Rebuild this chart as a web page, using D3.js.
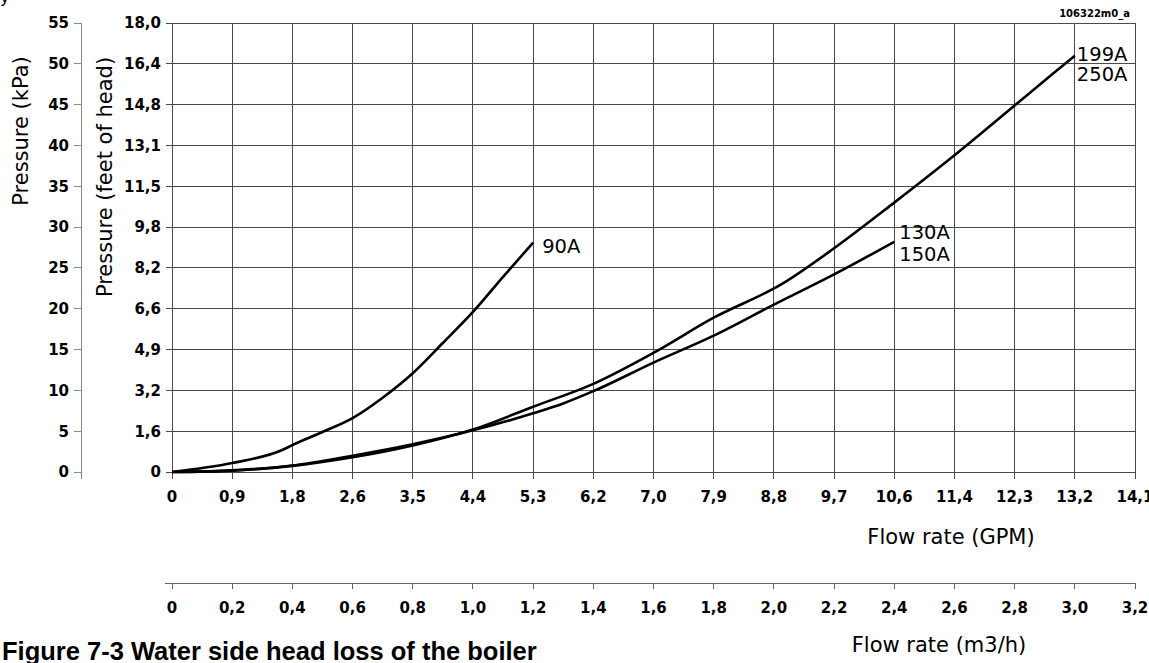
<!DOCTYPE html>
<html>
<head>
<meta charset="utf-8">
<style>
    body {
        margin: 0;
        background: #fff;
    }

    svg {
        display: block;
    }

    .tick-lbl {
        font-family: 'DejaVu Sans', sans-serif;
        font-weight: bold;
        font-size: 15px;
        fill: #000;
    }

    .axis-title {
        font-family: 'DejaVu Sans', sans-serif;
        font-size: 21px;
        fill: #000;
    }

    .curve-lbl {
        font-family: 'DejaVu Sans', sans-serif;
        font-size: 19.5px;
        fill: #000;
    }
</style>
</head>
<body>
<svg width="1149" height="663"></svg>

<script src="https://d3js.org/d3.v7.min.js"></script>
<script>
    // tick values / labels
    let m3hTicks = [0, 0.2, 0.4, 0.6, 0.8, 1.0, 1.2, 1.4, 1.6, 1.8, 2.0, 2.2, 2.4, 2.6, 2.8, 3.0, 3.2]
    let m3hLabels = ["0", "0,2", "0,4", "0,6", "0,8", "1,0", "1,2", "1,4", "1,6", "1,8", "2,0", "2,2", "2,4", "2,6", "2,8", "3,0", "3,2"]
    let gpmLabels = ["0", "0,9", "1,8", "2,6", "3,5", "4,4", "5,3", "6,2", "7,0", "7,9", "8,8", "9,7", "10,6", "11,4", "12,3", "13,2", "14,1"]
    let kpaTicks = [0, 5, 10, 15, 20, 25, 30, 35, 40, 45, 50, 55]
    let feetLabels = ["0", "1,6", "3,2", "4,9", "6,6", "8,2", "9,8", "11,5", "13,1", "14,8", "16,4", "18,0"]

    // curves: flow in m3/h, pressure loss in kPa
    let flow90A = [0, 0.2, 0.37, 0.4, 0.5, 0.6, 0.7, 0.8, 0.9, 1.0, 1.1, 1.2]
    let loss90A = [0, 1.1, 2.75, 3.3, 4.9, 6.6, 9.1, 12.1, 15.8, 19.6, 23.9, 28.1]

    let flow130A = [0, 0.2, 0.4, 0.6, 0.8, 1.0, 1.2, 1.3, 1.4, 1.6, 1.8, 2.0, 2.2, 2.4]
    let loss130A = [0, 0.2, 0.8, 2.0, 3.4, 5.1, 7.2, 8.4, 9.9, 13.4, 16.7, 20.5, 24.2, 28.2]

    let flow199A = [0, 0.2, 0.4, 0.6, 0.8, 1.0, 1.2, 1.4, 1.6, 1.8, 2.03, 2.2, 2.4, 2.6, 2.8, 3.0]
    let loss199A = [0, 0.17, 0.75, 1.8, 3.25, 5.2, 8.0, 10.8, 14.6, 18.9, 23.1, 27.4, 33.0, 38.8, 44.9, 51.0]

    let curveNames = [["90A"], ["130A", "150A"], ["199A", "250A"]]

    let svg = d3.select("svg")

    let x = d3.scaleLinear().domain([0, 3.2]).range([172, 1135])
    let y = d3.scaleLinear().domain([0, 55]).range([472, 23])

    // grid
    svg.selectAll(".vgrid")
        .data(m3hTicks)
        .join("line")
        .attr("x1", d => x(d)).attr("x2", d => x(d))
        .attr("y1", y(55)).attr("y2", y(0) + 7)
        .style("stroke", "#4a4a4a")
        .style("stroke-width", 1)
        .style("shape-rendering", "crispEdges")

    svg.selectAll(".hgrid")
        .data(kpaTicks)
        .join("line")
        .attr("x1", x(0) - 6).attr("x2", x(3.2))
        .attr("y1", d => y(d)).attr("y2", d => y(d))
        .style("stroke", "#4a4a4a")
        .style("stroke-width", 1)
        .style("shape-rendering", "crispEdges")

    // kPa axis
    svg.append("line")
        .attr("x1", 81).attr("x2", 81)
        .attr("y1", y(55)).attr("y2", y(0) + 7)
        .style("stroke", "#888")
        .style("shape-rendering", "crispEdges")

    svg.selectAll(".ktick")
        .data(kpaTicks)
        .join("line")
        .attr("x1", 74).attr("x2", 81)
        .attr("y1", d => y(d)).attr("y2", d => y(d))
        .style("stroke", "#888")
        .style("shape-rendering", "crispEdges")

    svg.selectAll(".klbl")
        .data(kpaTicks)
        .join("text")
        .attr("class", "tick-lbl")
        .attr("x", 69)
        .attr("y", d => y(d))
        .attr("dy", "0.36em")
        .attr("text-anchor", "end")
        .text(d => d)

    svg.selectAll(".flbl")
        .data(kpaTicks)
        .join("text")
        .attr("class", "tick-lbl")
        .attr("x", 161)
        .attr("y", d => y(d))
        .attr("dy", "0.36em")
        .attr("text-anchor", "end")
        .text((d, i) => feetLabels[i])

    // GPM labels under the plot
    svg.selectAll(".glbl")
        .data(m3hTicks)
        .join("text")
        .attr("class", "tick-lbl")
        .attr("x", d => x(d))
        .attr("y", 502)
        .attr("text-anchor", "middle")
        .text((d, i) => gpmLabels[i])

    // m3/h axis below
    let m3hAxisY = 583
    svg.append("line")
        .attr("x1", x(0) - 7).attr("x2", x(3.2))
        .attr("y1", m3hAxisY).attr("y2", m3hAxisY)
        .style("stroke", "#666")
        .style("shape-rendering", "crispEdges")

    svg.selectAll(".mtick")
        .data(m3hTicks)
        .join("line")
        .attr("x1", d => x(d)).attr("x2", d => x(d))
        .attr("y1", m3hAxisY).attr("y2", m3hAxisY + 6)
        .style("stroke", "#666")
        .style("shape-rendering", "crispEdges")

    svg.selectAll(".mlbl")
        .data(m3hTicks)
        .join("text")
        .attr("class", "tick-lbl")
        .attr("x", d => x(d))
        .attr("y", 613)
        .attr("text-anchor", "middle")
        .text((d, i) => m3hLabels[i])

    // curves
    let line = d3.line()
        .x(d => x(d[0]))
        .y(d => y(d[1]))
        .curve(d3.curveMonotoneX)

    let series = [
        { pts: d3.zip(flow90A, loss90A), names: curveNames[0], dx: 9, dy: [10] },
        { pts: d3.zip(flow130A, loss130A), names: curveNames[1], dx: 5, dy: [-3, 19] },
        { pts: d3.zip(flow199A, loss199A), names: curveNames[2], dx: 2, dy: [5, 25] }
    ]

    svg.selectAll(".curve")
        .data(series)
        .join("path")
        .attr("d", d => line(d.pts))
        .style("fill", "none")
        .style("stroke", "#000")
        .style("stroke-width", 2.6)
        .style("stroke-linejoin", "round")

    series.forEach(s => {
        let last = s.pts[s.pts.length - 1]
        s.names.forEach((n, i) => {
            svg.append("text")
                .attr("class", "curve-lbl")
                .attr("x", x(last[0]) + s.dx)
                .attr("y", y(last[1]) + s.dy[i])
                .text(n)
        })
    })

    // axis titles
    svg.append("text")
        .attr("class", "axis-title")
        .attr("transform", "translate(28,131) rotate(-90)")
        .attr("text-anchor", "middle")
        .text("Pressure (kPa)")

    svg.append("text")
        .attr("class", "axis-title")
        .attr("transform", "translate(112,177) rotate(-90)")
        .attr("text-anchor", "middle")
        .text("Pressure (feet of head)")

    svg.append("text")
        .attr("class", "axis-title")
        .attr("x", 951).attr("y", 544)
        .attr("text-anchor", "middle")
        .text("Flow rate (GPM)")

    svg.append("text")
        .attr("class", "axis-title")
        .attr("x", 939).attr("y", 652)
        .attr("text-anchor", "middle")
        .text("Flow rate (m3/h)")

    // figure caption + drawing code
    svg.append("text")
        .attr("x", 2).attr("y", 660)
        .style("font-family", "'Liberation Sans', Arial, sans-serif")
        .style("font-weight", "bold")
        .style("font-size", "25.5px")
        .text("Figure 7-3 Water side head loss of the boiler")

    svg.append("text")
        .attr("x", 1130).attr("y", 17)
        .attr("text-anchor", "end")
        .style("font-family", "'DejaVu Sans', sans-serif")
        .style("font-weight", "bold")
        .style("font-size", "10px")
        .text("106322m0_a")

    svg.append("text")
        .attr("x", 0).attr("y", 3)
        .style("font-family", "'DejaVu Sans', sans-serif")
        .style("font-size", "16px")
        .text("y")
</script>
</body>
</html>
